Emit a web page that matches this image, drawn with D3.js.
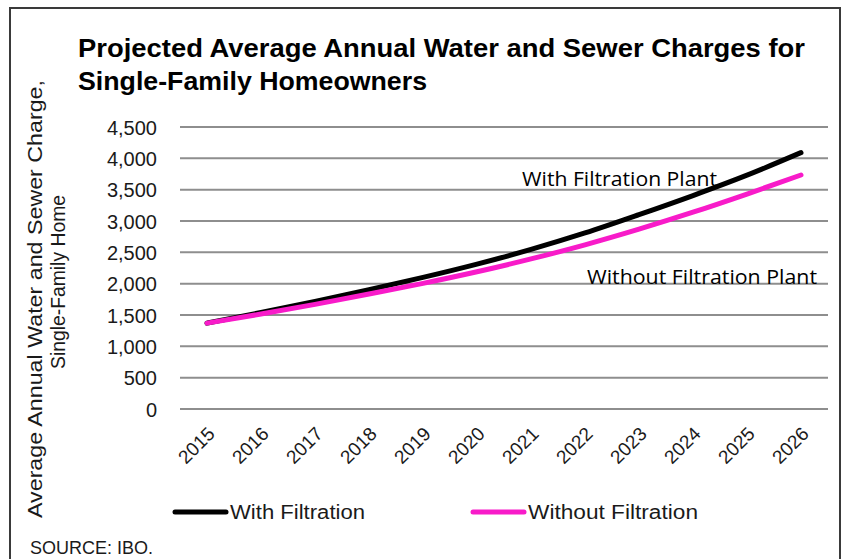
<!DOCTYPE html>
<html><head><meta charset="utf-8">
<script src="https://cdn.jsdelivr.net/npm/d3@7"></script>
<style>
html,body{margin:0;padding:0;background:#fff;}
svg{display:block;}
</style></head>
<body>
<svg id="chart" width="851" height="559"></svg>
<script>
const years = ["2015","2016","2017","2018","2019","2020","2021","2022","2023","2024","2025","2026"];
const withFiltration = [1370,1540,1718,1904,2100,2312,2547,2809,3101,3406,3731,4091];
const withoutFiltration = [1370,1515,1670,1835,2005,2190,2395,2620,2870,3140,3430,3734];
const yTicks = [0,500,1000,1500,2000,2500,3000,3500,4000,4500];
const seriesNames = ["With Filtration","Without Filtration"];
const seriesColors = ["#000000","#F81BC9"];
const titleLines = ["Projected Average Annual Water and Sewer Charges for","Single-Family Homeowners"];
const yTitleLines = ["Average Annual Water and Sewer Charge,","Single-Family Home"];
const annotations = ["With Filtration Plant","Without Filtration Plant"];
const source = "SOURCE: IBO.";

const svg = d3.select("#chart");
const tickFont = "'Liberation Sans', Arial, sans-serif";

// frame
svg.append("rect").attr("x",10).attr("y",8).attr("width",830).attr("height",570)
  .attr("fill","none").attr("stroke","#3a3a3a").attr("stroke-width",2);

const x = d3.scaleBand().domain(years).range([180,828]);
const y = d3.scaleLinear().domain([0,4500]).range([409,127]);

// gridlines
svg.append("g").selectAll("line").data(yTicks).join("line")
  .attr("x1",180).attr("x2",828)
  .attr("y1",d=>y(d)).attr("y2",d=>y(d))
  .attr("stroke","#8e8e8e").attr("stroke-width",2);

// y axis labels
const yAxis = d3.axisLeft(y).tickValues(yTicks).tickFormat(d3.format(",")).tickSize(0).tickPadding(0);
const gy = svg.append("g").attr("transform","translate(157,0)").call(yAxis);
gy.select(".domain").remove();
gy.selectAll("text").attr("font-family",tickFont).attr("font-size",20).attr("fill","#1a1a1a").attr("dy","0.36em");

// x axis labels
const xAxis = d3.axisBottom(x).tickSize(0).tickPadding(0);
const gx = svg.append("g").attr("transform","translate(0,409)").call(xAxis);
gx.select(".domain").remove();
gx.selectAll("text")
  .attr("font-family",tickFont).attr("font-size",19).attr("fill","#1a1a1a")
  .attr("text-anchor","end")
  .attr("dy",0).attr("y",0)
  .attr("transform","translate(9,26) rotate(-45)");

// lines
const line = d3.line().x((d,i)=>x(years[i])+x.bandwidth()/2).y(d=>y(d)).curve(d3.curveMonotoneX);
[withFiltration,withoutFiltration].forEach((s,i)=>{
  svg.append("path").datum(s).attr("d",line).attr("fill","none")
    .attr("stroke",seriesColors[i]).attr("stroke-width",5)
    .attr("stroke-linecap","round").attr("stroke-linejoin","round");
});

// title
const tl = svg.append("g").attr("font-family",tickFont).attr("font-weight","bold").attr("font-size",26).attr("fill","#000");
tl.append("text").attr("x",78).attr("y",57).attr("textLength",727).attr("lengthAdjust","spacingAndGlyphs").text(titleLines[0]);
tl.append("text").attr("x",78).attr("y",90).attr("textLength",349).attr("lengthAdjust","spacingAndGlyphs").text(titleLines[1]);

// y title
const yt = svg.append("g").attr("font-family",tickFont).attr("font-size",21).attr("fill","#1a1a1a").attr("text-anchor","middle");
yt.append("text").attr("transform","translate(42,299) rotate(-90)").attr("textLength",438).attr("lengthAdjust","spacingAndGlyphs").text(yTitleLines[0]);
yt.append("text").attr("transform","translate(65,282) rotate(-90)").attr("textLength",174).attr("lengthAdjust","spacingAndGlyphs").text(yTitleLines[1]);

// annotations
const an = svg.append("g").attr("font-family","'Open Sans', 'Noto Sans', sans-serif").attr("font-size",20).attr("fill","#000");
an.append("text").attr("x",522).attr("y",186).attr("textLength",195).attr("lengthAdjust","spacingAndGlyphs").text(annotations[0]);
an.append("text").attr("x",587).attr("y",284).attr("textLength",230).attr("lengthAdjust","spacingAndGlyphs").text(annotations[1]);

// legend
const lg = svg.append("g");
const legendX = [172,470];
const legendTextLen = [135,170];
seriesNames.forEach((n,i)=>{
  lg.append("line").attr("x1",legendX[i]+3).attr("x2",legendX[i]+54).attr("y1",512).attr("y2",512)
    .attr("stroke",seriesColors[i]).attr("stroke-width",5).attr("stroke-linecap","round");
  lg.append("text").attr("x",legendX[i]+58).attr("y",519).attr("font-family",tickFont).attr("font-size",20)
    .attr("textLength",legendTextLen[i]).attr("lengthAdjust","spacingAndGlyphs").attr("fill","#1a1a1a").text(n);
});

svg.append("text").attr("x",30).attr("y",554).attr("font-family",tickFont).attr("font-size",18).attr("fill","#1a1a1a").text(source);
</script>
</body></html>
